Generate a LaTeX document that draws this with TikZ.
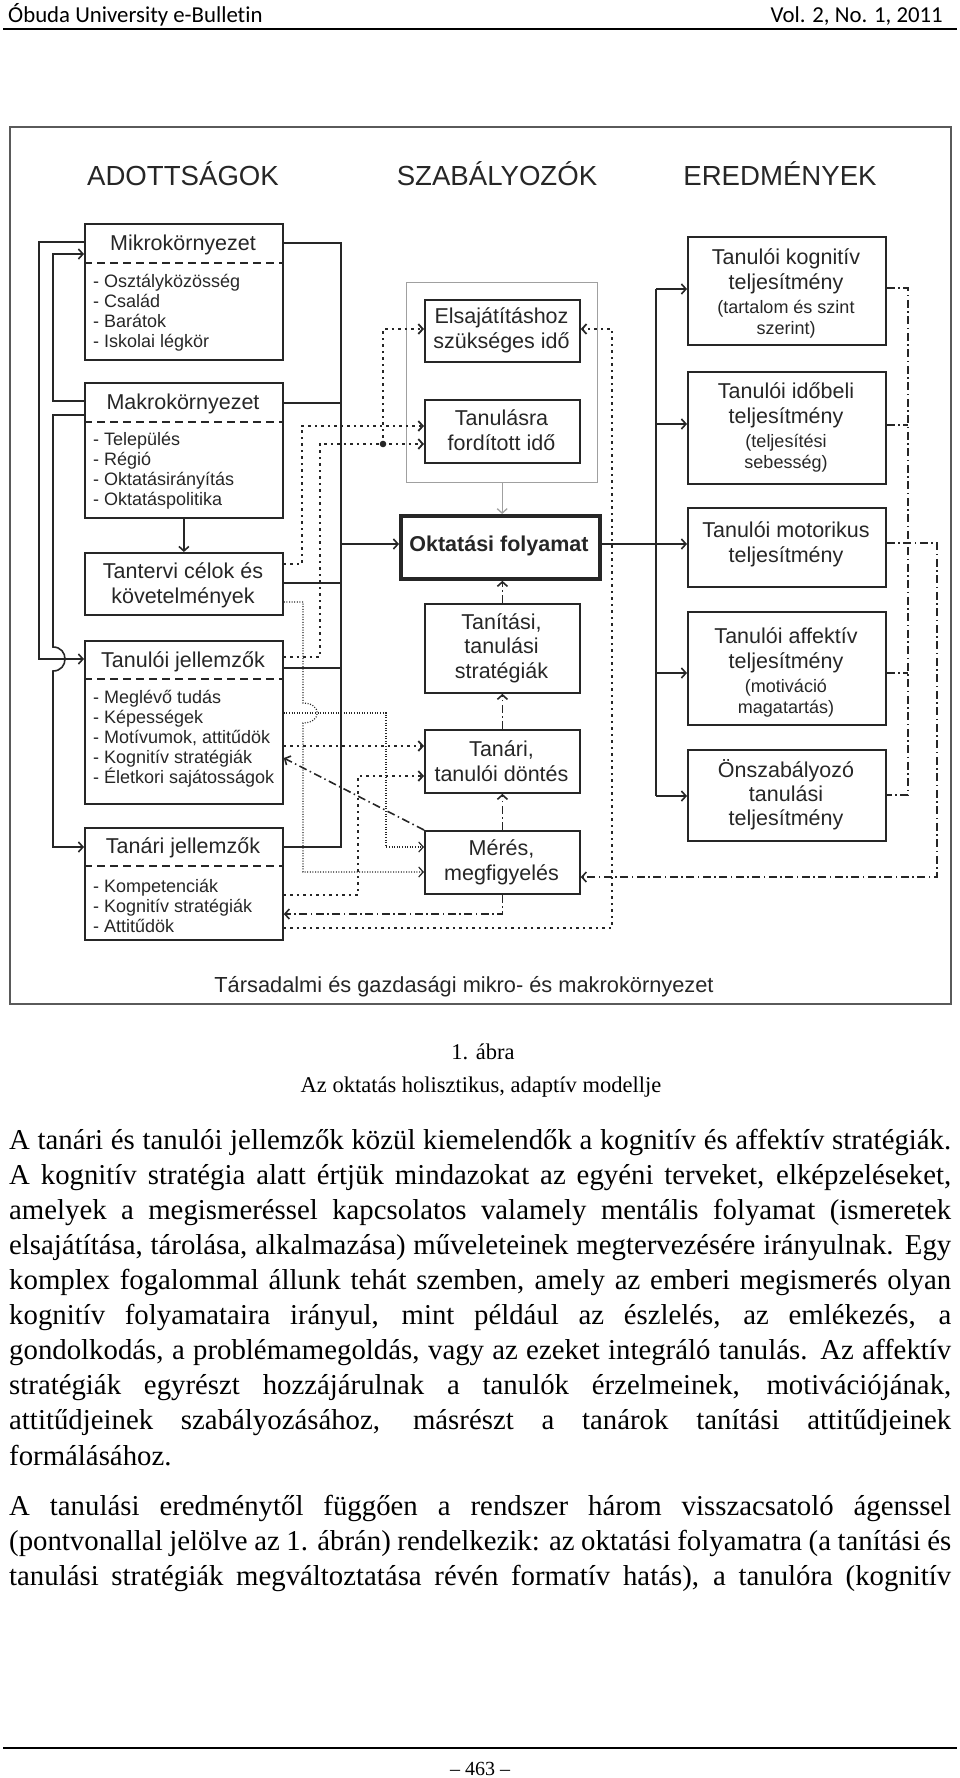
\documentclass[tikz,border=0pt]{standalone}
\usepackage{fontspec}
\setmainfont{Liberation Sans}
\newfontfamily\seriffont{Liberation Serif}
\newfontfamily\calibfont[Ligatures=NoCommon]{Carlito}
\usetikzlibrary{arrows.meta}
\definecolor{ink}{HTML}{262626}
\definecolor{framec}{HTML}{5A5A5A}
\definecolor{grayline}{HTML}{A0A0A0}
\tikzset{
  bx/.style={draw=ink, line width=1.8pt, anchor=north west, inner sep=0pt},
  gbx/.style={draw=grayline, line width=1.3pt, anchor=north west, inner sep=0pt},
  txt/.style={font=\fontsize{21.5}{25}\selectfont, text=ink, inner sep=0pt, align=center},
  smalltxt/.style={font=\fontsize{18}{21}\selectfont, text=ink, inner sep=0pt, align=center},
  itm/.style={font=\fontsize{18}{20}\selectfont, text=ink, inner sep=0pt, align=left, anchor=west},
  head/.style={font=\fontsize{27.6}{30}\selectfont, text=ink, inner sep=0pt, anchor=base},
  sepline/.style={draw=ink, line width=1.6pt, dash pattern=on 8pt off 5pt},
  conn/.style={draw=ink, line width=1.6pt},
  gconn/.style={draw=grayline, line width=1.3pt},
  arr/.style={-{Straight Barb[length=4.5pt,width=10pt]}},
  pv/.style={conn, line width=1.8pt, dash pattern=on 2.5pt off 4pt},
  fd/.style={conn, line width=1.2pt, dash pattern=on 1pt off 1.6pt},
  dd/.style={conn, dash pattern=on 8pt off 3.5pt on 1.5pt off 3.5pt},
  bodyl/.style={font=\seriffont\fontsize{28.8}{34}\selectfont, inner sep=0pt, anchor=base west},
}
\begin{document}
\begin{tikzpicture}[x=1pt,y=-1pt]
\useasboundingbox (0,0) rectangle (960,1778);
% page header
\node[anchor=base west, font=\calibfont\fontsize{22.8}{26}\selectfont, inner sep=0pt] (hleft) at (8,22) {Óbuda University e-Bulletin};
\node[anchor=base east, font=\calibfont\fontsize{22.8}{26}\selectfont, inner sep=0pt] (hright) at (943,22) {Vol. 2, No. 1, 2011};
\draw[line width=1.5pt] (3,29) -- (957,29);
% frame
\node[draw=framec, line width=2.4pt, anchor=north west, inner sep=0pt, minimum width=941pt, minimum height=877pt] (frame) at (9,126) {};
% headings
\node[head] (hA) at (183,185) {ADOTTSÁGOK};
\node[head] (hB) at (497,185) {SZABÁLYOZÓK};
\node[head] (hC) at (780,185) {EREDMÉNYEK};
% left column
\node[bx, minimum width=198pt, minimum height=136pt] (mikro) at (84,223) {};
\node[bx, minimum width=198pt, minimum height=135pt] (makro) at (84,382) {};
\node[bx, minimum width=198pt, minimum height=62pt] (tanterv) at (84,552) {};
\node[bx, minimum width=198pt, minimum height=163pt] (tanuloj) at (84,640) {};
\node[bx, minimum width=198pt, minimum height=112pt] (tanarj) at (84,827) {};
\draw[sepline] (mikro.west |- 0,263) -- (mikro.east |- 0,263);
\draw[sepline] (makro.west |- 0,422) -- (makro.east |- 0,422);
\draw[sepline] (tanuloj.west |- 0,679) -- (tanuloj.east |- 0,679);
\draw[sepline] (tanarj.west |- 0,866) -- (tanarj.east |- 0,866);
\node[txt] (mikrot) at (183,245) {Mikrokörnyezet};
\node[itm] (mikroi) at (93,313) {- Osztályközösség\\- Család\\- Barátok\\- Iskolai légkör};
\node[txt] (makrot) at (183,404) {Makrokörnyezet};
\node[itm] (makroi) at (93,471) {- Település\\- Régió\\- Oktatásirányítás\\- Oktatáspolitika};
\node[txt] (tantervt) at (183,585.5) {Tantervi célok és\\követelmények};
\node[txt] (tanulojt) at (183,662) {Tanulói jellemzők};
\node[itm] (tanuloji) at (93,739) {- Meglévő tudás\\- Képességek\\- Motívumok, attitűdök\\- Kognitív stratégiák\\- Életkori sajátosságok};
\node[txt] (tanarjt) at (183,848) {Tanári jellemzők};
\node[itm] (tanarji) at (93,906) {- Kompetenciák\\- Kognitív stratégiák\\- Attitűdök};
% middle column
\node[gbx, minimum width=191pt, minimum height=200pt] (grp) at (406,282) {};
\node[bx, minimum width=155pt, minimum height=62pt] (elsaj) at (424,299) {};
\node[bx, minimum width=155pt, minimum height=63pt] (tanul) at (424,399) {};
\node[bx, line width=3.8pt, minimum width=199pt, minimum height=63pt] (okt) at (399,514) {};
\node[bx, minimum width=155pt, minimum height=89pt] (tanit) at (424,603) {};
\node[bx, minimum width=155pt, minimum height=63pt] (dont) at (424,729) {};
\node[bx, minimum width=155pt, minimum height=63pt] (meres) at (424,830) {};
\node[txt] (elsajt) at (501.5,330) {Elsajátításhoz\\szükséges idő};
\node[txt] (tanult) at (501.5,430) {Tanulásra\\fordított idő};
\node[txt, font=\bfseries\fontsize{21.5}{25}\selectfont] (oktt) at (499,546) {Oktatási folyamat};
\node[txt, font=\fontsize{21.5}{24.5}\selectfont] (tanitt) at (501.5,648) {Tanítási,\\tanulási\\stratégiák};
\node[txt] (dontt) at (501.5,761) {Tanári,\\tanulói döntés};
\node[txt] (merest) at (501.5,862) {Mérés,\\megfigyelés};
% right column
\node[bx, minimum width=198pt, minimum height=108pt] (r1) at (687,236) {};
\node[bx, minimum width=198pt, minimum height=112pt] (r2) at (687,371) {};
\node[bx, minimum width=198pt, minimum height=79pt] (r3) at (687,507) {};
\node[bx, minimum width=198pt, minimum height=113pt] (r4) at (687,611) {};
\node[bx, minimum width=198pt, minimum height=91pt] (r5) at (687,749) {};
\node[txt] (r1t) at (786,271) {Tanulói kognitív\\teljesítmény};
\node[smalltxt] (r1s) at (786,319) {(tartalom és szint\\szerint)};
\node[txt] (r2t) at (786,405.5) {Tanulói időbeli\\teljesítmény};
\node[smalltxt] (r2s) at (786,453.5) {(teljesítési\\sebesség)};
\node[txt] (r3t) at (786,544) {Tanulói motorikus\\teljesítmény};
\node[txt] (r4t) at (786,650) {Tanulói affektív\\teljesítmény};
\node[smalltxt] (r4s) at (786,698.5) {(motiváció\\magatartás)};
\node[txt, font=\fontsize{21.5}{24}\selectfont] (r5t) at (786,794.5) {Önszabályozó\\tanulási\\teljesítmény};
% bottom label
\node[anchor=base, font=\fontsize{21.8}{25}\selectfont, text=ink, inner sep=0pt] (soc) at (464,992) {Társadalmi és gazdasági mikro- és makrokörnyezet};
% ---- solid connectors
\draw[conn,arr] (mikro.west |- 0,242) -| (39,659) -- (tanuloj.west |- 0,659);
\draw[conn,arr] (makro.west |- 0,401) -| (53,254) -- (mikro.west |- 0,254);
\draw[conn,arr] (makro.west |- 0,415) -| (53,647) .. controls (69,647) and (69,671) .. (53,671) |- (tanarj.west |- 0,847);
\draw[conn] (mikro.east |- 0,243) -- (341,243) -- (341,847) -- (tanarj.east |- 0,847);
\draw[conn] (makro.east |- 0,403) -- (341,403);
\draw[conn] (tanterv.east |- 0,583) -- (341,583);
\draw[conn] (tanuloj.east |- 0,668) -- (341,668);
\coordinate (busl) at (341,544);
\draw[conn,arr] (busl) -- (okt.west |- busl);
\draw[conn,arr] (makro.south) -- (tanterv.north);
\draw[gconn,arr] (grp.south) -- (grp.south |- okt.north);
\draw[conn,arr] (okt.east |- 0,544) -- (r3.west |- 0,544);
\coordinate (busr) at (656,544);
\draw[conn] (656,289) -- (656,796);
\draw[conn,arr] (656,289) -- (r1.west |- 0,289);
\draw[conn,arr] (656,424) -- (r2.west |- 0,424);
\draw[conn,arr] (656,673) -- (r4.west |- 0,673);
\draw[conn,arr] (656,796) -- (r5.west |- 0,796);
% ---- dash-dot connectors
\draw[dd,arr] (meres.north) -- (dont.south);
\draw[dd,arr] (dont.north) -- (tanit.south);
\draw[dd,arr] (tanit.north) -- (tanit.north |- okt.south);
\draw[dd] (r1.east |- 0,288) -- (908,288) -- (908,795) -- (r5.east |- 0,795);
\draw[dd] (r2.east |- 0,425) -- (908,425);
\draw[dd] (r4.east |- 0,673) -- (908,673);
\draw[dd,arr] (r3.east |- 0,543) -- (937,543) -- (937,877) -- (meres.east |- 0,877);
\draw[dd,arr] (meres.north west) -- (tanuloj.east |- 0,758);
\draw[dd,arr] (meres.south) -- (meres.south |- 0,914) -- (tanarj.east |- 0,914);
% ---- dotted (pontvonal) connectors
\draw[pv,arr] (tanarj.east |- 0,928) -- (612,928) -- (612,329) -- (elsaj.east |- 0,329);
\draw[pv,arr] (tanuloj.east |- 0,657) -| (320,444) -- (tanul.west |- 0,444);
\coordinate (jn) at (383,444);
\draw[pv,arr] (jn) -- (383,329) -- (elsaj.west |- 0,329);
\fill[ink] (jn) circle[radius=3.3pt];
\draw[pv,arr] (tanterv.east |- 0,564) -| (302,426) -- (tanul.west |- 0,426);
\draw[pv,arr] (tanuloj.east |- 0,746) -- (dont.west |- 0,746);
\draw[pv,arr] (tanarj.east |- 0,895) -| (358,776) -- (dont.west |- 0,776);
% ---- fine dotted connectors
\draw[fd,arr] (tanterv.east |- 0,602) -| (303,703) .. controls (322,703) and (322,723) .. (303,723) |- (meres.west |- 0,872);
\draw[fd,arr] (tanuloj.east |- 0,713) -| (386,847) -- (meres.west |- 0,847);
% ---- caption
\node[anchor=base, font=\seriffont\fontsize{22.5}{26}\selectfont, inner sep=0pt] (cap1) at (483,1059) {1. ábra};
\node[anchor=base, font=\seriffont\fontsize{22.5}{26}\selectfont, inner sep=0pt] (cap2) at (481,1092) {Az oktatás holisztikus, adaptív modellje};
% ---- body text
\node[bodyl] (b1) at (9,1149) {\makebox[942pt][s]{A tanári és tanulói jellemzők közül kiemelendők a kognitív és affektív stratégiák.}};
\node[bodyl] (b2) at (9,1184) {\makebox[942pt][s]{A kognitív stratégia alatt értjük mindazokat az egyéni terveket, elképzeléseket,}};
\node[bodyl] (b3) at (9,1219) {\makebox[942pt][s]{amelyek a megismeréssel kapcsolatos valamely mentális folyamat (ismeretek}};
\node[bodyl] (b4) at (9,1254) {\makebox[942pt][s]{elsajátítása, tárolása, alkalmazása) műveleteinek megtervezésére irányulnak. Egy}};
\node[bodyl] (b5) at (9,1289) {\makebox[942pt][s]{komplex fogalommal állunk tehát szemben, amely az emberi megismerés olyan}};
\node[bodyl] (b6) at (9,1324) {\makebox[942pt][s]{kognitív folyamataira irányul, mint például az észlelés, az emlékezés, a}};
\node[bodyl] (b7) at (9,1359) {\makebox[942pt][s]{gondolkodás, a problémamegoldás, vagy az ezeket integráló tanulás. Az affektív}};
\node[bodyl] (b8) at (9,1394) {\makebox[942pt][s]{stratégiák egyrészt hozzájárulnak a tanulók érzelmeinek, motivációjának,}};
\node[bodyl] (b9) at (9,1429) {\makebox[942pt][s]{attitűdjeinek szabályozásához, másrészt a tanárok tanítási attitűdjeinek}};
\node[bodyl] (b10) at (9,1465) {formálásához.};
\node[bodyl] (b11) at (9,1515) {\makebox[942pt][s]{A tanulási eredménytől függően a rendszer három visszacsatoló ágenssel}};
\node[bodyl] (b12) at (9,1550) {\makebox[942pt][s]{(pontvonallal jelölve az 1. ábrán) rendelkezik: az oktatási folyamatra (a tanítási és}};
\node[bodyl] (b13) at (9,1585) {\makebox[942pt][s]{tanulási stratégiák megváltoztatása révén formatív hatás), a tanulóra (kognitív}};
% ---- footer
\draw[line width=2pt] (3,1748) -- (957,1748);
\node[anchor=base, font=\seriffont\fontsize{20}{24}\selectfont, inner sep=0pt] (pnum) at (480,1775) {– 463 –};
\end{tikzpicture}
\end{document}
